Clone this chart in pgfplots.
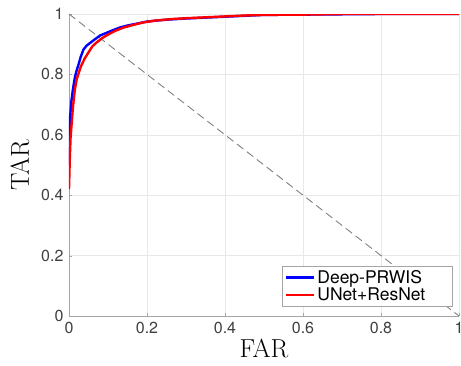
\documentclass[border=0pt]{standalone}
\usepackage{pgfplots}
\pgfplotsset{compat=1.18}
\usepackage{fontspec}
\newfontfamily\hel{TeX Gyre Heros}
\definecolor{ticktext}{RGB}{64,64,64}
\definecolor{axgray}{RGB}{165,165,165}
\definecolor{gridgray}{RGB}{232,232,232}
\begin{document}
\begin{tikzpicture}[x=1pt,y=1pt]
\begin{axis}[
  at={(0pt,0pt)}, anchor=south west,
  scale only axis,
  width=390pt, height=302pt,
  xmin=0, xmax=1, ymin=0, ymax=1,
  xtick={0,0.2,0.4,0.6,0.8,1},
  ytick={0,0.2,0.4,0.6,0.8,1},
  /pgf/number format/assume math mode=true,
  /pgf/number format/fixed,
  tick label style={font=\hel\fontsize{16}{16}\selectfont, text=ticktext},
  xticklabel style={yshift=-3pt},
  yticklabel style={xshift=-2pt},
  axis x line*=bottom, axis y line*=left,
  axis line style={axgray, line width=0.9pt},
  tick style={axgray},
  tick align=inside,
  major tick length=3pt,
  grid=major,
  major grid style={gridgray, line width=0.6pt},
  xlabel={FAR}, ylabel={TAR},
  label style={font=\fontsize{26}{26}\selectfont},
  xlabel style={at={(axis description cs:0.5,-0.139)}, anchor=base},
  ylabel style={at={(axis description cs:-0.103,0.5)}, anchor=base, rotate=0},
  legend style={at={(rel axis cs:0.984,0.03)}, anchor=south east,
    font=\hel\fontsize{17.5}{19}\selectfont, draw=axgray, line width=0.9pt,
    inner xsep=3pt, inner ysep=3pt, row sep=1.5pt,
    nodes={inner xsep=2pt, inner ysep=1pt}},
  legend cell align=left,
  legend image code/.code={\draw[#1, line width=2.2pt] (0pt,0pt) -- (28pt,0pt);},
]
\addplot[gray, line width=0.9pt, dash pattern=on 8pt off 4.5pt, forget plot] coordinates {(0,1) (1,0)};
\addplot[blue, line width=2.4pt] coordinates {
(0,0.50) (0.001,0.58) (0.003,0.66) (0.006,0.71) (0.010,0.75) (0.015,0.79)
(0.020,0.815) (0.025,0.835) (0.030,0.858) (0.037,0.882) (0.045,0.895) (0.055,0.905)
(0.065,0.915) (0.080,0.929) (0.095,0.937) (0.11,0.945) (0.13,0.955) (0.15,0.962)
(0.17,0.967) (0.20,0.975) (0.23,0.979) (0.26,0.982) (0.30,0.985) (0.35,0.988)
(0.40,0.991) (0.45,0.994) (0.50,0.997) (0.60,0.998) (0.70,0.999) (0.80,1.0) (1.0,1.0)};
\addlegendentry{Deep-PRWIS}
\addplot[red, line width=2.4pt] coordinates {
(0,0.42) (0.002,0.52) (0.004,0.59) (0.007,0.64) (0.010,0.69) (0.015,0.75)
(0.020,0.785) (0.030,0.825) (0.040,0.852) (0.050,0.873) (0.060,0.893) (0.070,0.905)
(0.085,0.92) (0.100,0.932) (0.12,0.945) (0.14,0.955) (0.165,0.964) (0.19,0.972)
(0.22,0.978) (0.26,0.983) (0.30,0.986) (0.35,0.989) (0.40,0.992) (0.45,0.995)
(0.50,0.997) (0.60,0.998) (0.70,1.0) (1.0,1.0)};
\addlegendentry{UNet+ResNet\hspace*{22pt}}
\end{axis}
\pgfresetboundingbox
\useasboundingbox (-69pt,-49pt) rectangle (392pt,316pt);
\end{tikzpicture}
\end{document}
